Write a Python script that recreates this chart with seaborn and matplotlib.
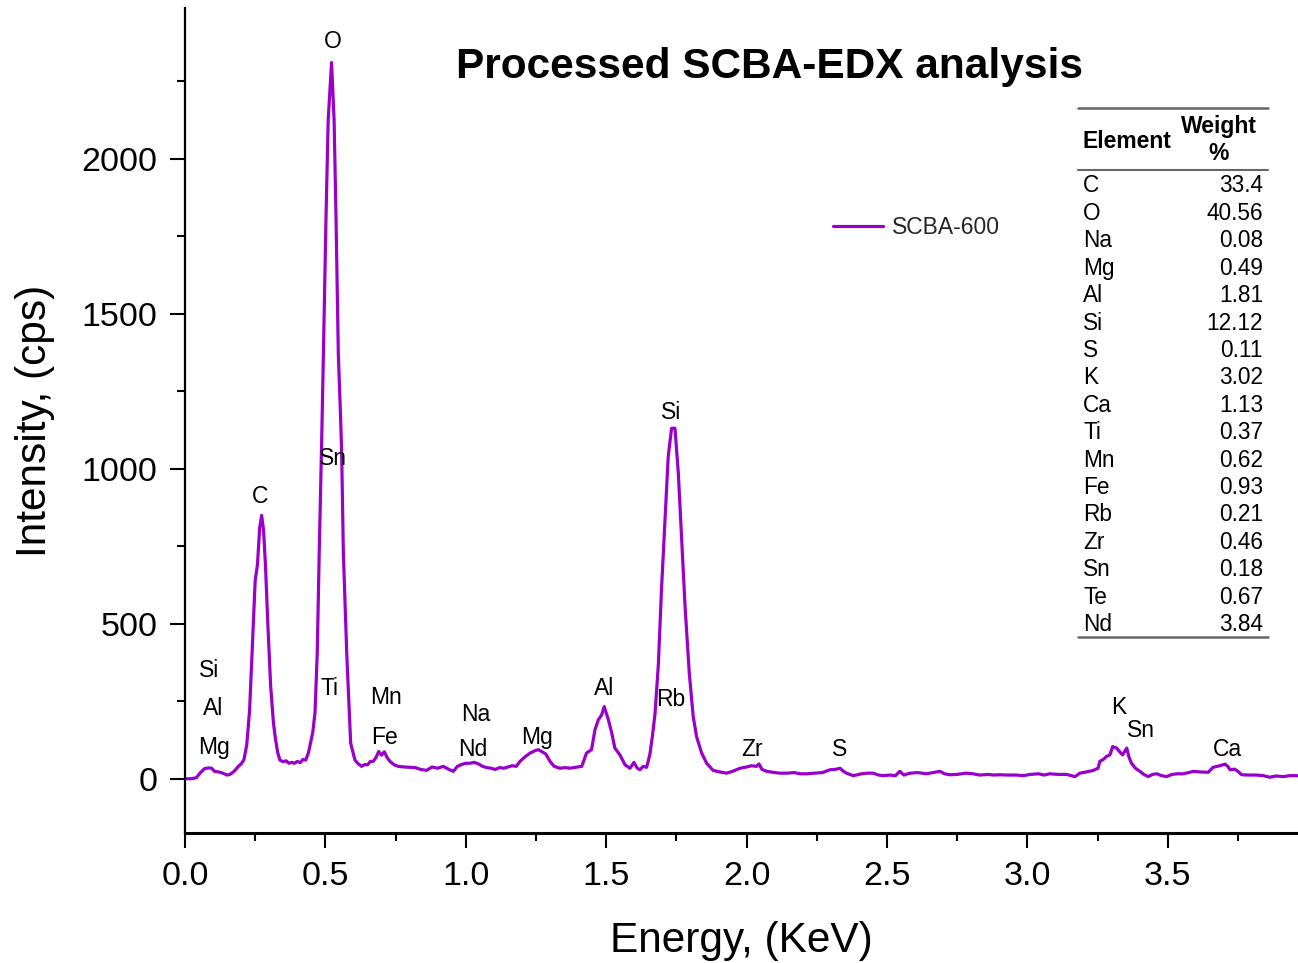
import matplotlib
matplotlib.use("Agg")
import matplotlib.pyplot as plt
import seaborn as sns
from matplotlib.lines import Line2D
from matplotlib.ticker import MultipleLocator

# ------------- Spectrum -------------
energy = [
    0.000, 0.020, 0.040, 0.055, 0.070, 0.085, 0.095, 0.105, 0.120, 0.135, 0.150, 0.160, 0.175, 0.190,
    0.200, 0.210, 0.220, 0.230, 0.240, 0.250, 0.258, 0.266, 0.273, 0.280, 0.287, 0.295, 0.305, 0.315,
    0.322, 0.330, 0.338, 0.350, 0.360, 0.370, 0.380, 0.390, 0.400, 0.410, 0.420, 0.430, 0.440, 0.455,
    0.463, 0.471, 0.478, 0.487, 0.493, 0.502, 0.510, 0.522, 0.531, 0.538, 0.546, 0.554, 0.558, 0.564,
    0.576, 0.590, 0.605, 0.615, 0.629, 0.640, 0.650, 0.660, 0.670, 0.680, 0.690, 0.700, 0.710, 0.720,
    0.730, 0.745, 0.760, 0.780, 0.800, 0.820, 0.840, 0.860, 0.880, 0.900, 0.920, 0.940, 0.956, 0.970,
    0.985, 1.000, 1.015, 1.030, 1.045, 1.060, 1.075, 1.090, 1.105, 1.120, 1.135, 1.150, 1.165, 1.180,
    1.193, 1.210, 1.229, 1.245, 1.258, 1.270, 1.285, 1.300, 1.315, 1.335, 1.355, 1.370, 1.385, 1.400,
    1.413, 1.430, 1.448, 1.460, 1.472, 1.484, 1.493, 1.508, 1.520, 1.531, 1.549, 1.567, 1.585, 1.599,
    1.610, 1.620, 1.632, 1.644, 1.656, 1.665, 1.674, 1.686, 1.697, 1.709, 1.721, 1.733, 1.745, 1.757,
    1.769, 1.781, 1.796, 1.810, 1.822, 1.840, 1.858, 1.881, 1.905, 1.929, 1.950, 1.977, 2.000, 2.018,
    2.035, 2.044, 2.055, 2.072, 2.100, 2.120, 2.143, 2.170, 2.190, 2.214, 2.240, 2.270, 2.297, 2.315,
    2.333, 2.345, 2.356, 2.380, 2.410, 2.430, 2.451, 2.470, 2.487, 2.510, 2.530, 2.546, 2.560, 2.582,
    2.610, 2.640, 2.665, 2.689, 2.705, 2.724, 2.750, 2.780, 2.807, 2.830, 2.860, 2.880, 2.902, 2.930,
    2.960, 2.985, 3.010, 3.040, 3.060, 3.080, 3.110, 3.140, 3.170, 3.187, 3.210, 3.235, 3.252, 3.258,
    3.270, 3.282, 3.294, 3.304, 3.318, 3.328, 3.339, 3.354, 3.362, 3.371, 3.385, 3.401, 3.415, 3.431,
    3.446, 3.461, 3.478, 3.496, 3.515, 3.535, 3.555, 3.575, 3.591, 3.615, 3.644, 3.662, 3.685, 3.704,
    3.714, 3.722, 3.739, 3.750, 3.763, 3.790, 3.815, 3.840, 3.864, 3.885, 3.911, 3.935, 3.958, 3.975,
]
intensity = [
    0, 0, 3, 20, 33, 35, 34, 24, 22, 18, 12, 14, 24, 40,
    48, 62, 110, 220, 430, 640, 690, 810, 850, 800, 680, 500, 300, 180,
    130, 85, 60, 55, 58, 50, 53, 50, 56, 52, 62, 60, 85, 150,
    213, 406, 729, 1100, 1373, 1803, 2126, 2311, 2126, 1803, 1373, 1169, 1050, 729,
    406, 115, 61, 50, 40, 46, 45, 56, 56, 68, 88, 76, 87, 68,
    56, 45, 40, 38, 37, 36, 30, 27, 38, 34, 40, 30, 24, 40,
    46, 50, 50, 53, 48, 40, 36, 34, 30, 36, 34, 38, 42, 40,
    56, 70, 83, 90, 94, 88, 80, 56, 40, 34, 36, 34, 36, 38,
    40, 83, 94, 158, 190, 206, 233, 190, 147, 99, 77, 45, 34, 53,
    35, 29, 40, 37, 80, 140, 210, 370, 610, 825, 1040, 1131, 1131, 986,
    771, 556, 341, 201, 136, 83, 50, 27, 22, 18, 24, 34, 38, 42,
    40, 48, 30, 24, 20, 18, 18, 20, 16, 16, 18, 20, 29, 30,
    34, 24, 18, 10, 16, 18, 18, 12, 10, 12, 10, 24, 12, 18,
    20, 16, 20, 24, 16, 13, 14, 18, 16, 12, 14, 12, 13, 12,
    12, 10, 14, 16, 12, 16, 14, 14, 7, 18, 22, 27, 34, 56,
    62, 72, 77, 104, 99, 88, 77, 99, 70, 50, 34, 24, 14, 7,
    14, 16, 10, 7, 14, 16, 16, 20, 24, 22, 21, 37, 42, 47,
    40, 29, 31, 24, 13, 12, 12, 10, 5, 9, 7, 10, 10, 9,
]

peak_labels = ["O", "C", "Sn", "Ti", "Si", "Al", "Mg", "Mn", "Fe", "Na", "Nd",
               "Mg", "Al", "Si", "Rb", "Zr", "S", "K", "Sn", "Ca"]
peak_energy = [0.527, 0.267, 0.527, 0.513, 0.085, 0.100, 0.103, 0.716, 0.709, 1.036, 1.026,
               1.254, 1.492, 1.731, 1.731, 2.019, 2.333, 3.326, 3.405, 3.711]
peak_height = [2380, 910, 1033, 291, 349, 226, 100, 262, 133, 207, 94,
               133, 291, 1181, 255, 94, 94, 229, 155, 94]

table_elements = ["C", "O", "Na", "Mg", "Al", "Si", "S", "K", "Ca", "Ti",
                  "Mn", "Fe", "Rb", "Zr", "Sn", "Te", "Nd"]
table_weights = [33.4, 40.56, 0.08, 0.49, 1.81, 12.12, 0.11, 3.02, 1.13, 0.37,
                 0.62, 0.93, 0.21, 0.46, 0.18, 0.67, 3.84]

series_name = "SCBA-600"
line_color = "#9A00CC"

# ------------- Style -------------
sns.set_theme(style="ticks")
plt.rcParams['font.family'] = ['Liberation Sans', 'DejaVu Sans']

W, H = 1298, 963
fig = plt.figure(figsize=(W / 100, H / 100), dpi=100)
ax = fig.add_axes([185 / W, 1 - 833 / H, (W - 185) / W, (833 - 8) / H])

sns.lineplot(x=energy, y=intensity, ax=ax, color=line_color, linewidth=2.3,
             label=series_name, sort=False, estimator=None)

ax.set_xlim(0, 3.964)
ax.set_ylim(-175, 2487)
ax.xaxis.set_major_locator(MultipleLocator(0.5))
ax.xaxis.set_minor_locator(MultipleLocator(0.25))
ax.yaxis.set_major_locator(MultipleLocator(500))
ax.yaxis.set_minor_locator(MultipleLocator(250))
ax.xaxis.set_major_formatter(matplotlib.ticker.FormatStrFormatter("%.1f"))
ax.tick_params(which="major", direction="out", length=11, width=1.5, labelsize=24.5,
               color="black", labelcolor="black", pad=9)
ax.tick_params(which="minor", direction="out", length=5.5, width=1.5, color="black")
ax.tick_params(axis="x", which="both", top=False)
ax.tick_params(axis="y", which="both", right=False)

for side in ["top", "right"]:
    ax.spines[side].set_visible(False)
ax.spines["left"].set_linewidth(1.6)
ax.spines["bottom"].set_linewidth(2.2)
ax.spines["left"].set_color("black")
ax.spines["bottom"].set_color("black")

ax.set_xlabel("Energy, (KeV)", fontsize=30.5, labelpad=21, color="black")
ax.set_ylabel("Intensity, (cps)", fontsize=30.5, labelpad=19, color="black")

# peak labels
for lab, e, h in zip(peak_labels, peak_energy, peak_height):
    ax.text(e, h, lab, ha="center", va="center", fontsize=16.5, color="black")

ax.text(0.5256, 0.928, "Processed SCBA-EDX analysis", transform=ax.transAxes,
        ha="center", va="center", fontsize=30.5, fontweight="bold", color="black")

ax.legend(loc="center left", bbox_to_anchor=(0.582, 0.734), frameon=False,
          fontsize=16.5, handlelength=2.2, handletextpad=0.4,
          borderpad=0, borderaxespad=0)

# ------------- Weight % table -------------
def fx(px):
    return px / W


def fy(py):
    return 1 - py / H


rule_color = "#666666"
for py, lw in [(108, 1.8), (170, 1.5), (637, 1.8)]:
    fig.add_artist(Line2D([fx(1078), fx(1268)], [fy(py), fy(py)],
                          transform=fig.transFigure, color=rule_color, lw=lw))

fig.text(fx(1083), fy(141), "Element", ha="left", va="center", fontsize=16.5,
         fontweight="bold", color="black")
fig.text(fx(1219), fy(127), "Weight", ha="center", va="center", fontsize=16.5,
         fontweight="bold", color="black")
fig.text(fx(1219), fy(154), "%", ha="center", va="center", fontsize=16.5,
         fontweight="bold", color="black")

for i, (el, wt) in enumerate(zip(table_elements, table_weights)):
    row_y = 186 + i * 27.4
    fig.text(fx(1083), fy(row_y), el, ha="left", va="center", fontsize=16.3, color="black")
    fig.text(fx(1263), fy(row_y), str(wt), ha="right", va="center", fontsize=16.3, color="black")

fig.savefig("out.png", dpi=100)
